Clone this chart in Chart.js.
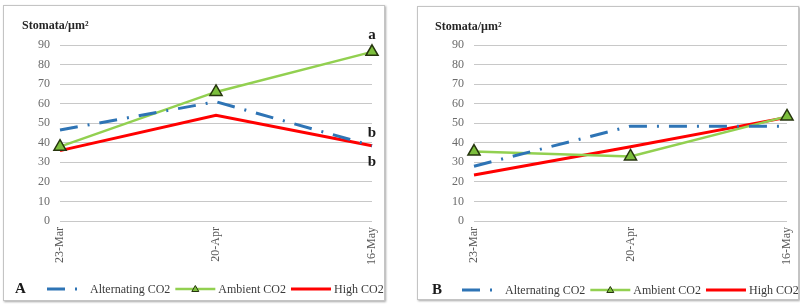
<!DOCTYPE html>
<html><head><meta charset="utf-8">
<script src="https://cdn.jsdelivr.net/npm/chart.js@4.4.1/dist/chart.umd.min.js"></script>
<style>
html,body{margin:0;padding:0;background:#fff;width:800px;height:307px;overflow:hidden}
.box{position:absolute;border:1px solid #c4c4c4;box-shadow:1px 1px 2px rgba(0,0,0,0.35);background:#fff}
canvas{display:block}
</style></head><body>
<div class="box" style="left:3px;top:5px;width:380px;height:294px"><canvas id="cA" width="380" height="294"></canvas></div>
<div class="box" style="left:417px;top:6px;width:380px;height:292px"><canvas id="cB" width="380" height="292"></canvas></div>
<script>
const categories = ['23-Mar', '20-Apr', '16-May'];
const yMin = 0, yMax = 90, yStep = 10;
const seriesNames = ['Alternating CO2', 'Ambient CO2', 'High CO2'];
const yTitle = 'Stomata/µm²';

const alternatingA = [46.5, 61, 38.5];
const ambientA = [38, 66, 86.5];
const highA = [36, 54, 38.5];

const alternatingB = [28, 48.5, 48.5];
const ambientB = [35.5, 33, 53.5];
const highB = [23.5, 38, 53];

// significance letters: text, series index, category index
const lettersA = [['a', 1, 2], ['b', 0, 2], ['b', 2, 2]];
const lettersB = [];

const FONT = "'Liberation Serif', 'DejaVu Serif', serif";
const COLORS = ['#2e74b5', '#92d050', '#ff0000'];

function datasets(alt, amb, high) {
  return [
    { label: seriesNames[0], data: alt, borderColor: COLORS[0], borderWidth: 3,
      borderDash: [18, 10, 2, 10], borderCapStyle: 'butt', pointRadius: 0, tension: 0, clip: false },
    { label: seriesNames[1], data: amb, borderColor: COLORS[1], borderWidth: 2.5,
      pointStyle: 'triangle', pointRadius: 7, pointBackgroundColor: '#7cbf3c',
      pointBorderColor: '#26350e', pointBorderWidth: 1.5, tension: 0, clip: false },
    { label: seriesNames[2], data: high, borderColor: COLORS[2], borderWidth: 3,
      pointRadius: 0, tension: 0, clip: false }
  ];
}

const decor = {
  id: 'decor',
  afterDraw(chart, args, opts) {
    const ctx = chart.ctx;
    ctx.save();
    // y title
    ctx.fillStyle = '#262626';
    ctx.font = "bold 12px " + FONT;
    ctx.textBaseline = 'middle';
    ctx.textAlign = 'left';
    ctx.fillText(yTitle, opts.titleX, 20);
    // panel letter
    ctx.font = "bold 15px " + FONT;
    ctx.fillStyle = '#1a1a1a';
    ctx.fillText(opts.panel, opts.panelX, opts.legendY);
    // legend
    ctx.font = "12px " + FONT;
    let x = opts.legendX;
    const y = opts.legendY;
    chart.data.datasets.forEach((ds, i) => {
      ctx.save();
      ctx.strokeStyle = ds.borderColor;
      ctx.lineWidth = ds.borderWidth;
      ctx.lineCap = 'butt';
      ctx.setLineDash(ds.borderDash || []);
      ctx.beginPath();
      ctx.moveTo(x, y);
      ctx.lineTo(x + 40, y);
      ctx.stroke();
      ctx.restore();
      if (ds.pointStyle === 'triangle') {
        ctx.save();
        const cx = x + 20;
        ctx.fillStyle = ds.pointBackgroundColor;
        ctx.strokeStyle = ds.pointBorderColor;
        ctx.lineWidth = 1;
        ctx.beginPath();
        ctx.moveTo(cx, y - 3.5);
        ctx.lineTo(cx + 3.5, y + 2.5);
        ctx.lineTo(cx - 3.5, y + 2.5);
        ctx.closePath();
        ctx.fill();
        ctx.stroke();
        ctx.restore();
      }
      ctx.fillStyle = '#3a3a3a';
      ctx.textAlign = 'left';
      ctx.fillText(ds.label, x + 43, y + 1);
      x += 43 + ctx.measureText(ds.label).width + 5;
    });
    // significance letters
    const xs = chart.scales.x, ys = chart.scales.y;
    ctx.font = "bold 15px " + FONT;
    ctx.fillStyle = '#1a1a1a';
    ctx.textAlign = 'center';
    const offs = { 1: -17, 0: -13, 2: 16 };
    opts.letters.forEach(([t, s, idx]) => {
      const v = chart.data.datasets[s].data[idx];
      ctx.fillText(t, xs.getPixelForValue(idx), ys.getPixelForValue(v) + offs[s]);
    });
    ctx.restore();
  }
};

function makeChart(id, ds, o) {
  const canvas = document.getElementById(id);
  return new Chart(canvas, {
    type: 'line',
    data: { labels: categories, datasets: ds },
    options: {
      responsive: false,
      animation: false,
      devicePixelRatio: 1,
      layout: { padding: { left: 0, right: o.padRight, top: o.padTop, bottom: 0 } },
      plugins: { legend: { display: false }, tooltip: { enabled: false },
        decor: o },
      scales: {
        x: {
          offset: false,
          grid: { display: false, drawTicks: false },
          border: { display: false },
          ticks: { minRotation: 90, maxRotation: 90, padding: 6, color: '#595959',
            font: { family: FONT, size: 12 } },
          afterFit(s) { s.height = o.xHeight; s.paddingLeft = 0; s.paddingRight = 0; }
        },
        y: {
          min: yMin, max: yMax,
          grid: { color: '#c8c8c8', lineWidth: 1, drawTicks: false },
          border: { display: false },
          ticks: { stepSize: yStep, padding: 10, color: '#6b6b6b',
            font: { family: FONT, size: 12 } },
          afterFit(s) { s.width = 56; s.paddingTop = 0; s.paddingBottom = 0; }
        }
      }
    },
    plugins: [decor]
  });
}

makeChart('cA', datasets(alternatingA, ambientA, highA),
  { padRight: 12, padTop: 39, xHeight: 79, titleX: 18, panel: 'A', panelX: 11,
    legendX: 43, legendY: 283, letters: lettersA });
makeChart('cB', datasets(alternatingB, ambientB, highB),
  { padRight: 11, padTop: 38, xHeight: 78, titleX: 17, panel: 'B', panelX: 14,
    legendX: 44, legendY: 283, letters: lettersB });
</script>
</body></html>
